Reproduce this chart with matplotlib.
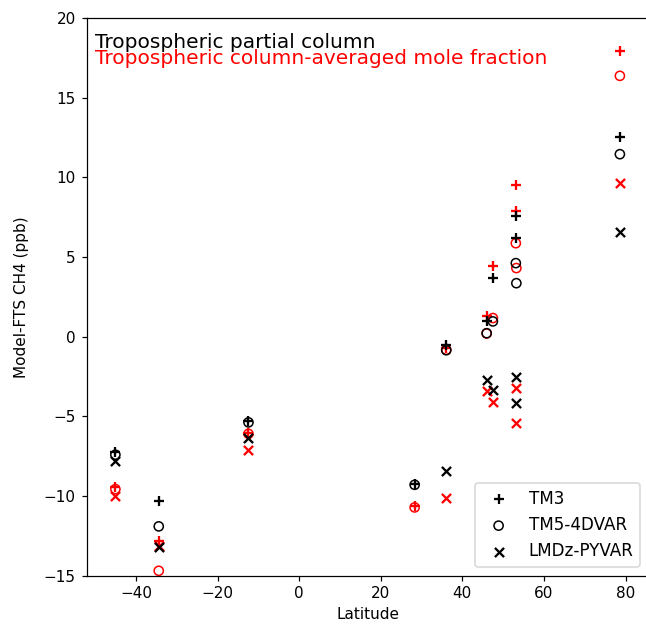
import numpy as np
import matplotlib
matplotlib.use("Agg")
import matplotlib.pyplot as plt

# station latitudes (FTS sites)
lat = np.array([-45.04, -34.41, -12.42, 28.3, 36.05, 45.95, 47.48, 53.1, 53.23, 78.6])

# tropospheric partial column (black)
tm3_pc = [-7.27, -10.3, -5.3, -9.25, -0.5, 0.96, 3.68, 7.55, 6.19, 12.57]
tm5_pc = [-7.41, -11.91, -5.38, -9.3, -0.85, 0.22, 0.96, 4.62, 3.36, 11.46]
lmdz_pc = [-7.83, -13.23, -6.37, np.nan, -8.46, -2.7, -3.33, -2.5, -4.17, 6.6]

# tropospheric column-averaged mole fraction (red)
tm3_xm = [-9.44, -12.81, -6.05, -10.6, -0.7, 1.27, 4.45, 9.54, 7.92, 17.97]
tm5_xm = [-9.57, -14.7, -6.1, -10.72, -0.82, 0.2, 1.17, 5.87, 4.31, 16.38]
lmdz_xm = [-10.03, -13.15, -7.14, np.nan, -10.13, -3.44, -4.13, -3.23, -5.42, 9.64]

DPI = 110
fig = plt.figure(figsize=(646 / DPI, 627 / DPI), dpi=DPI)
# right spine falls just outside the saved image, as in the original
ax = fig.add_axes([0.134, 0.082, 0.8704, 0.889])

ax.scatter(lat, tm3_xm, marker='+', c='red')
ax.scatter(lat, tm5_xm, marker='o', facecolors='none', edgecolors='red')
ax.scatter(lat, lmdz_xm, marker='x', c='red')

ax.scatter(lat, tm3_pc, marker='+', c='black', label='TM3')
ax.scatter(lat, tm5_pc, marker='o', facecolors='none', edgecolors='black', label='TM5-4DVAR')
ax.scatter(lat, lmdz_pc, marker='x', c='black', label='LMDz-PYVAR')

ax.set_xlim(-52.1, 85.7)
ax.set_ylim(-15, 20)
ax.set_xlabel('Latitude')
ax.set_ylabel('Model-FTS CH4 (ppb)', labelpad=10)
ax.text(0.015, 0.957, 'Tropospheric partial column', transform=ax.transAxes,
        fontsize=13.2, color='black', va='center')
ax.text(0.015, 0.928, 'Tropospheric column-averaged mole fraction', transform=ax.transAxes,
        fontsize=13.2, color='red', va='center')
ax.legend(loc='lower right', fontsize=11)

fig.savefig('out.png', dpi=DPI)
